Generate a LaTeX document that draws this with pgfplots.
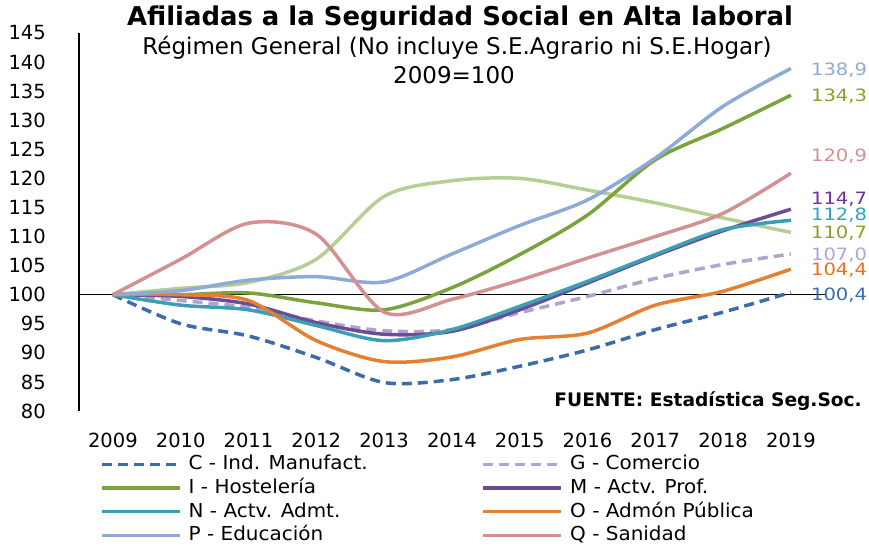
\documentclass[border=0pt]{standalone}
\usepackage{fontspec}
\setmainfont{DejaVu Sans}
\newfontfamily\widefont[FakeStretch=1.15]{DejaVu Sans}
\newfontfamily\legfont[FakeStretch=1.04]{DejaVu Sans}
\usepackage{pgfplots}
\pgfplotsset{compat=1.18}
\definecolor{cC}{HTML}{3D6AAA}
\definecolor{cG}{HTML}{B3A2D0}
\definecolor{cI}{HTML}{7AA33E}
\definecolor{cM}{HTML}{6A4D94}
\definecolor{cN}{HTML}{3C9FB4}
\definecolor{cO}{HTML}{E38032}
\definecolor{cP}{HTML}{8FAAD7}
\definecolor{cQ}{HTML}{D39191}
\definecolor{cL}{HTML}{B4CE94}
\definecolor{tOl}{HTML}{86A12A}
\definecolor{tM}{HTML}{7030A0}
\definecolor{tN}{HTML}{31A3BF}
\definecolor{tO}{HTML}{E8711F}
\definecolor{tC}{HTML}{3A6CB4}
\definecolor{tG}{HTML}{B4A3D9}
\begin{document}
\begin{tikzpicture}[x=1pt,y=1pt]
\path[use as bounding box] (0,0) rectangle (869,547);
\begin{axis}[
  at={(79pt,136pt)}, anchor=south west,
  scale only axis, width=745.8pt, height=378pt,
  xmin=2008.5, xmax=2019.5, ymin=80, ymax=145,
  axis x line*=bottom, axis y line*=left,
  x axis line style={draw=none},
  y axis line style={black, line width=1.5pt},
  xtick={2009,2010,...,2019}, ytick={80,85,...,145},
  major tick length=0pt,
  /pgf/number format/assume math mode=true,
  /pgf/number format/1000 sep={},
  ticklabel style={font=\fontsize{19.5}{20}\selectfont},
  yticklabel style={anchor=east, inner sep=0pt, xshift=-33pt},
  xticklabel style={anchor=base, inner sep=0pt, yshift=-36pt},
  clip=false,
  legend columns=2,
  legend cell align=left,
  legend style={at={(0.0282,-0.1185)}, anchor=north west, draw=none, fill=none,
    inner sep=0pt, row sep=6.6pt,
    nodes={inner sep=0pt, text height=14pt, text depth=3pt, font=\legfont\fontsize{19.2}{21}\selectfont},
    /tikz/every odd column/.append style={column sep=7pt}},
  legend image code/.code={\draw[#1, line cap=butt] (0pt,0pt) -- (78pt,0pt);},
  every axis plot/.append style={smooth, tension=0.5, line width=3.5pt},
]
\addplot[black, line width=1.5pt, forget plot, sharp plot] coordinates {(2008.5,100) (2019.5,100)};
\addplot[cL, forget plot] coordinates {(2009,100) (2010,101.1) (2011,102.1) (2012,106.1) (2013,116.9) (2014,119.6) (2015,120.0) (2016,118.0) (2017,115.8) (2018,113.2) (2019,110.7)};
\addplot[cC, dash pattern=on 10pt off 6pt] coordinates {(2009,100) (2010,95.0) (2011,92.9) (2012,89.2) (2013,84.9) (2014,85.4) (2015,87.7) (2016,90.5) (2017,94.0) (2018,97.0) (2019,100.4)};
\addlegendentry{\makebox[293pt][l]{C - Ind. Manufact.}}
\addplot[cG, dash pattern=on 10pt off 6pt] coordinates {(2009,100) (2010,99.0) (2011,97.8) (2012,95.5) (2013,93.8) (2014,94.0) (2015,96.9) (2016,99.7) (2017,102.8) (2018,105.2) (2019,107.0)};
\addlegendentry{G - Comercio}
\addplot[cI] coordinates {(2009,100) (2010,100.0) (2011,100.3) (2012,98.6) (2013,97.4) (2014,101.2) (2015,106.9) (2016,113.7) (2017,123.2) (2018,128.6) (2019,134.3)};
\addlegendentry{\makebox[293pt][l]{I - Hostelería}}
\addplot[cM] coordinates {(2009,100) (2010,99.7) (2011,98.4) (2012,95.2) (2013,93.2) (2014,93.7) (2015,97.4) (2016,102.0) (2017,106.7) (2018,111.0) (2019,114.7)};
\addlegendentry{M - Actv. Prof.}
\addplot[cN] coordinates {(2009,100) (2010,98.2) (2011,97.4) (2012,94.7) (2013,92.1) (2014,94.0) (2015,98.0) (2016,102.3) (2017,106.9) (2018,111.2) (2019,112.8)};
\addlegendentry{\makebox[293pt][l]{N - Actv. Admt.}}
\addplot[cO] coordinates {(2009,100) (2010,100.0) (2011,99.0) (2012,92.1) (2013,88.5) (2014,89.3) (2015,92.3) (2016,93.4) (2017,98.2) (2018,100.6) (2019,104.4)};
\addlegendentry{O - Admón Pública}
\addplot[cP] coordinates {(2009,100) (2010,100.7) (2011,102.5) (2012,103.1) (2013,102.2) (2014,107.0) (2015,111.9) (2016,116.3) (2017,123.5) (2018,132.4) (2019,138.9)};
\addlegendentry{\makebox[293pt][l]{P - Educación}}
\addplot[cQ] coordinates {(2009,100) (2010,106.1) (2011,112.3) (2012,110.4) (2013,97.0) (2014,99.2) (2015,102.5) (2016,106.3) (2017,110.0) (2018,114.0) (2019,120.9)};
\addlegendentry{Q - Sanidad}
\begin{scope}[every node/.style={anchor=west, inner sep=0pt, xshift=20pt, font=\widefont\fontsize{17}{18}\selectfont}]
\node[text=cP] at (axis cs:2019,138.66) {138,9};
\node[text=tOl] at (axis cs:2019,134.07) {134,3};
\node[text=cQ] at (axis cs:2019,123.88) {120,9};
\node[text=tM] at (axis cs:2019,116.4) {114,7};
\node[text=tN] at (axis cs:2019,113.7) {112,8};
\node[text=tOl] at (axis cs:2019,110.6) {110,7};
\node[text=tG] at (axis cs:2019,106.87) {107,0};
\node[text=tO] at (axis cs:2019,104.2) {104,4};
\node[text=tC] at (axis cs:2019,100.0) {100,4};
\end{scope}
\end{axis}
\node[font=\bfseries\fontsize{25.9}{26}\selectfont] at (460,529) {Afiliadas a la Seguridad Social en Alta laboral};
\node[font=\fontsize{23}{24}\selectfont] at (457,499) {Régimen General (No incluye S.E.Agrario ni S.E.Hogar)};
\node[font=\fontsize{23}{24}\selectfont] at (454,472) {2009=100};
\node[anchor=east, inner sep=0pt, font=\bfseries\fontsize{18.6}{19}\selectfont] at (862,146) {FUENTE: Estadística Seg.Soc.};
\end{tikzpicture}
\end{document}
